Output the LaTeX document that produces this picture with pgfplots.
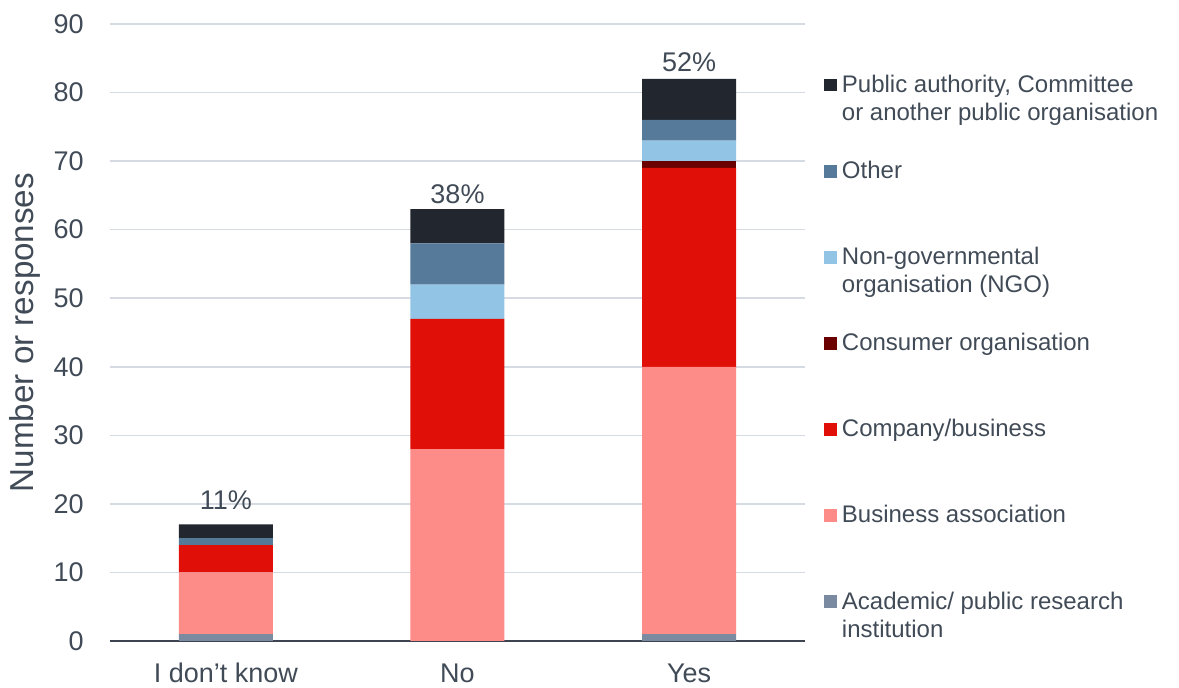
\documentclass[border=0pt]{standalone}
\usepackage{fontspec}
\setmainfont{Liberation Sans}
\usepackage{pgfplots}
\pgfplotsset{compat=1.18}
\definecolor{cPub}{HTML}{22262E}
\definecolor{cOth}{HTML}{557A9A}
\definecolor{cNGO}{HTML}{92C5E5}
\definecolor{cCon}{HTML}{6B0000}
\definecolor{cCom}{HTML}{E00F07}
\definecolor{cBA}{HTML}{FD8B88}
\definecolor{cAca}{HTML}{7A8AA0}
\definecolor{txt}{HTML}{414B57}
\definecolor{grd}{HTML}{D5DAE3}
\definecolor{axl}{HTML}{3D4450}
\pgfplotsset{mysq/.style={legend image code/.code={\fill[##1] (0pt,0.5pt) rectangle (6.3pt,6.8pt);}}}
\newcommand{\lent}[1]{\parbox[t]{175pt}{\fontsize{12}{14}\selectfont\strut #1}}
\begin{document}
\begin{tikzpicture}
\begin{axis}[
  scale only axis, width=347.5pt, height=308.5pt,
  ybar stacked, bar width=47pt,
  xmin=-0.5, xmax=2.5, ymin=0, ymax=90,
  xtick={0,1,2}, xticklabels={I don’t know, No, Yes},
  ytick={0,10,...,90},
  axis x line*=bottom, axis y line*=left,
  x axis line style={-, color=axl, line width=1pt},
  y axis line style={draw=none},
  major tick length=0pt,
  ymajorgrids, grid style={grd, line width=0.8pt},
  tick label style={font=\fontsize{13.5}{16}\selectfont, text=txt},
  /pgf/number format/assume math mode=true,
  xticklabel style={anchor=base, yshift=-21pt, inner sep=0pt},
  yticklabel style={anchor=east, xshift=-13pt, inner sep=0pt},
  ylabel={Number or responses},
  ylabel style={at={(rel axis cs:-0.1094,0.5)}, anchor=base, font=\fontsize{16.6}{19}\selectfont, text=txt, inner sep=0pt},
  reverse legend,
  legend style={at={(rel axis cs:1.0273,0.9215)}, anchor=north west, draw=none, fill=none,
    inner sep=0pt, row sep=31.75pt, column sep=2.5pt, text=txt,
    cells={anchor=base west}, nodes={inner sep=0pt}},
  clip=false,
]
\addplot[fill=cAca, draw=none, mysq] coordinates {(0,1) (1,0) (2,1)};
\addlegendentry{\lent{Academic/ public research\\institution}}
\addplot[fill=cBA, draw=none, mysq] coordinates {(0,9) (1,28) (2,39)};
\addlegendentry{\lent{Business association}}
\addplot[fill=cCom, draw=none, mysq] coordinates {(0,4) (1,19) (2,29)};
\addlegendentry{\lent{Company/business}}
\addplot[fill=cCon, draw=none, mysq] coordinates {(0,0) (1,0) (2,1)};
\addlegendentry{\lent{Consumer organisation}}
\addplot[fill=cNGO, draw=none, mysq] coordinates {(0,0) (1,5) (2,3)};
\addlegendentry{\lent{Non-governmental\\organisation (NGO)}}
\addplot[fill=cOth, draw=none, mysq] coordinates {(0,1) (1,6) (2,3)};
\addlegendentry{\lent{Other}}
\addplot[fill=cPub, draw=none, mysq] coordinates {(0,2) (1,5) (2,6)};
\addlegendentry{\lent{Public authority, Committee\\or another public organisation}}
\coordinate (o) at (rel axis cs:0,0);
\end{axis}
\begin{axis}[
  scale only axis, width=347.5pt, height=308.5pt,
  xmin=-0.5, xmax=2.5, ymin=0, ymax=90,
  hide axis, clip=false,
]
\addplot[draw=none, mark=none,
  point meta=explicit symbolic,
  visualization depends on={\thisrow{off}\as\myoff},
  nodes near coords,
  every node near coord/.append style={font=\fontsize{13.5}{16}\selectfont, text=txt, inner sep=0pt,
    text height=0pt, text depth=0pt, yshift=\myoff pt}]
  table[x=x, y=y, meta=lab] {
x y lab off
0 17 11\% 7
1 63 38\% 2
2 82 52\% 3
};
\end{axis}
\pgfresetboundingbox
\path (o) ++(-55pt,-23.5pt) rectangle ++(589.5pt,344pt);
\end{tikzpicture}
\end{document}
